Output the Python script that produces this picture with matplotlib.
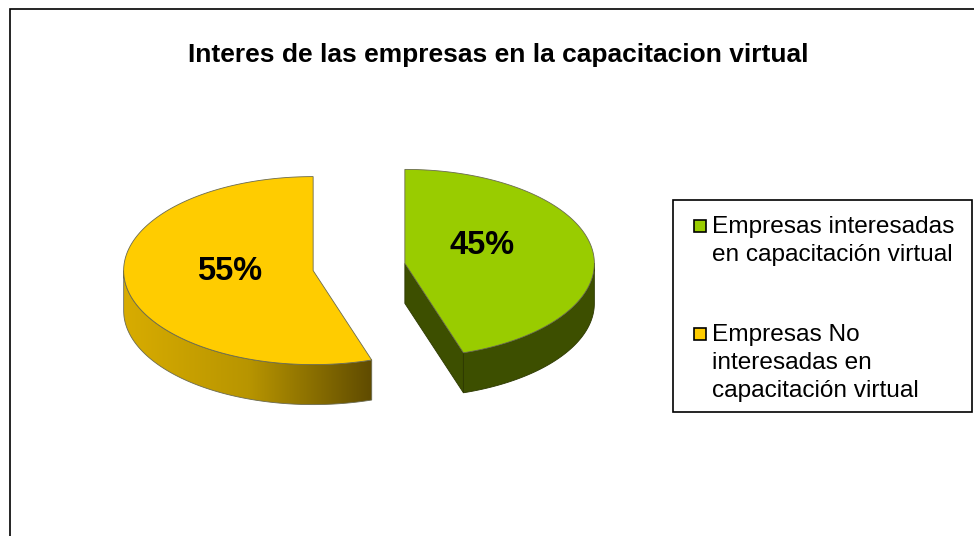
import numpy as np
import matplotlib
matplotlib.use("Agg")
import matplotlib.pyplot as plt
from matplotlib.patches import Polygon, Rectangle
from matplotlib.colors import LinearSegmentedColormap

plt.rcParams['font.family'] = ['Liberation Sans', 'DejaVu Sans']

title = "Interes de las empresas en la capacitacion virtual"
categories = ["Empresas interesadas\nen capacitación virtual",
              "Empresas No\ninteresadas en\ncapacitación virtual"]
values = [45, 55]
labels = ["45%", "55%"]
top_colors = ["#99CC00", "#FFCC00"]

W, H = 974, 536
CX, CY, RX, RY, DEPTH, EXPLODE = 359, 267, 189.5, 94, 40, 0.245
EDGE = "#6a6a50"

fig = plt.figure(figsize=(W/100, H/100), dpi=100)
ax = fig.add_axes([0, 0, 1, 1])
ax.set_xlim(0, W)
ax.set_ylim(H, 0)
ax.axis("off")


def pt(cx, cy, deg, dz=0):
    a = np.radians(deg)
    return np.column_stack([cx + RX*np.sin(a), cy - RY*np.cos(a) + dz])


def arc(cx, cy, a0, a1, dz=0):
    return pt(cx, cy, np.linspace(a0, a1, 200), dz)


# frame
ax.plot([10, 10, W + 5], [H + 5, 9, 9], color="black", lw=1.2, solid_joinstyle="miter")

fractions = np.array(values) / sum(values)
bounds = np.concatenate([[0], np.cumsum(fractions) * 360])
side_cmap = LinearSegmentedColormap.from_list("side", ["#D8AC00", "#B89500", "#5F4B00"])

for i, (a0, a1) in enumerate(zip(bounds[:-1], bounds[1:])):
    mid = (a0 + a1) / 2
    m = np.radians(mid)
    cx = CX + EXPLODE*RX*np.sin(m)
    cy = CY - EXPLODE*RY*np.cos(m)
    top = np.vstack([[cx, cy], arc(cx, cy, a0, a1)])
    # outer rim visible on the lower half of the ellipse
    r0, r1 = max(a0, 90), min(a1, 270)
    rim = np.vstack([arc(cx, cy, r0, r1), arc(cx, cy, r1, r0, DEPTH)])
    if i == 0:
        end = pt(cx, cy, a1)[0]
        face = np.array([[cx, cy], end, end + [0, DEPTH], [cx, cy + DEPTH]])
        ax.add_patch(Polygon(face, closed=True, fc="#3D4F00", ec="#2c3800", lw=0.6, zorder=2))
        ax.add_patch(Polygon(rim, closed=True, fc="#3D4F00", ec="#2c3800", lw=0.6, zorder=2))
    else:
        poly = Polygon(rim, closed=True, fc="none", ec=EDGE, lw=0.6, zorder=3)
        ax.add_patch(poly)
        x0, x1 = rim[:, 0].min(), rim[:, 0].max()
        y0, y1 = rim[:, 1].min(), rim[:, 1].max()
        im = ax.imshow(np.linspace(0, 1, 256)[None, :], cmap=side_cmap, aspect="auto",
                       extent=[x0, x1, y1, y0], zorder=2)
        clip = Polygon(rim, closed=True, transform=ax.transData)
        im.set_clip_path(clip)
    ax.add_patch(Polygon(top, closed=True, fc=top_colors[i], ec=EDGE, lw=0.6, zorder=4))

ax.set_xlim(0, W)
ax.set_ylim(H, 0)

ax.text(482, 245, labels[0], fontsize=23.5, fontweight="bold", ha="center", va="center", zorder=6)
ax.text(230, 271, labels[1], fontsize=23.5, fontweight="bold", ha="center", va="center", zorder=6)
ax.text(498, 55, title, fontsize=19, fontweight="bold", ha="center", va="center", zorder=6)

# legend
ax.add_patch(Rectangle((673, 200), 299, 212, fc="white", ec="black", lw=1.2, zorder=5))
ys = [220, 328]
for i, (c, y) in enumerate(zip(categories, ys)):
    ax.add_patch(Rectangle((694, y), 12, 12, fc=top_colors[i], ec="black", lw=1.2, zorder=6))
    ax.text(712, y - 4, c, fontsize=17.55, va="top", ha="left", linespacing=1.34, zorder=6)

fig.savefig("out.png", dpi=100)
